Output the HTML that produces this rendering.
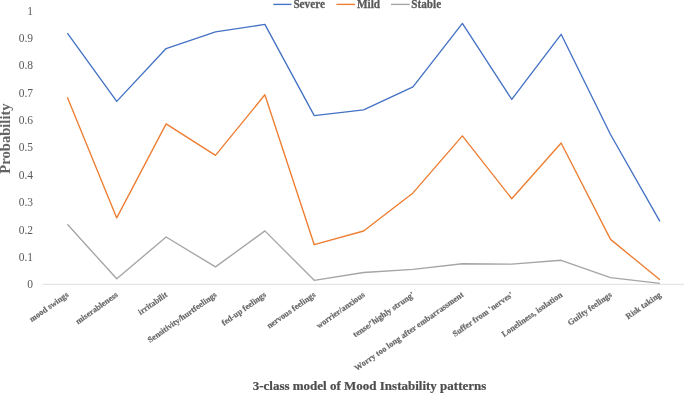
<!DOCTYPE html>
<html><head><meta charset="utf-8"><style>
html,body{margin:0;padding:0;background:#fff;}
svg{display:block;filter:blur(0.3px);}
</style></head><body>
<svg width="685" height="393" viewBox="0 0 685 393">
<rect width="685" height="393" fill="#fff"/>
<line x1="43.0" y1="284.3" x2="684.0" y2="284.3" stroke="#dedede" stroke-width="1"/>
<g font-family="'Liberation Serif', serif" font-size="11.5" fill="#595959">
<text x="33" y="288.30" text-anchor="end">0</text>
<text x="33" y="260.92" text-anchor="end">0.1</text>
<text x="33" y="233.54" text-anchor="end">0.2</text>
<text x="33" y="206.16" text-anchor="end">0.3</text>
<text x="33" y="178.78" text-anchor="end">0.4</text>
<text x="33" y="151.40" text-anchor="end">0.5</text>
<text x="33" y="124.02" text-anchor="end">0.6</text>
<text x="33" y="96.64" text-anchor="end">0.7</text>
<text x="33" y="69.26" text-anchor="end">0.8</text>
<text x="33" y="41.88" text-anchor="end">0.9</text>
<text x="33" y="14.50" text-anchor="end">1</text>
</g>
<g font-family="'Liberation Serif', serif" font-size="8.35" font-weight="bold" fill="#666666" stroke="#666666" stroke-width="0.18">
<text transform="translate(69.15,296.00) rotate(-35)" text-anchor="end">mood swings</text>
<text transform="translate(118.53,296.00) rotate(-35)" text-anchor="end">miserableness</text>
<text transform="translate(167.91,296.00) rotate(-35)" text-anchor="end">irritabilit</text>
<text transform="translate(217.29,296.00) rotate(-35)" text-anchor="end">Sensitivity/hurtfeelings</text>
<text transform="translate(266.67,296.00) rotate(-35)" text-anchor="end">fed-up feelings</text>
<text transform="translate(316.05,296.00) rotate(-35)" text-anchor="end">nervous feelings</text>
<text transform="translate(365.43,296.00) rotate(-35)" text-anchor="end">worrier/anxious</text>
<text transform="translate(414.80,296.00) rotate(-35)" text-anchor="end">tense/'highly strung'</text>
<text transform="translate(464.18,296.00) rotate(-35)" text-anchor="end">Worry too long after embarrassment</text>
<text transform="translate(513.56,296.00) rotate(-35)" text-anchor="end">Suffer from 'nerves'</text>
<text transform="translate(562.94,296.00) rotate(-35)" text-anchor="end">Loneliness, isolation</text>
<text transform="translate(612.32,296.00) rotate(-35)" text-anchor="end">Guilty feelings</text>
<text transform="translate(661.70,296.00) rotate(-35)" text-anchor="end">Risk taking</text>
</g>
<polyline points="67.35,224.31 116.73,278.80 166.11,236.99 215.49,266.91 264.87,230.88 314.25,280.30 363.62,272.50 413.00,269.41 462.38,263.71 511.76,264.09 561.14,260.29 610.52,277.59 659.90,283.45" fill="none" stroke="#a5a5a5" stroke-width="1.35" stroke-linejoin="round"/>
<polyline points="67.35,97.27 116.73,217.90 166.11,123.83 215.49,155.31 264.87,94.80 314.25,244.71 363.62,230.99 413.00,192.91 462.38,135.87 511.76,198.71 561.14,142.99 610.52,239.37 659.90,279.81" fill="none" stroke="#ed7d31" stroke-width="1.35" stroke-linejoin="round"/>
<polyline points="67.35,33.20 116.73,101.38 166.11,48.53 215.49,31.83 264.87,24.44 314.25,115.61 363.62,109.86 413.00,86.86 462.38,23.34 511.76,99.46 561.14,34.29 610.52,134.51 659.90,221.30" fill="none" stroke="#4472c4" stroke-width="1.35" stroke-linejoin="round"/>
<g font-family="'Liberation Serif', serif" font-size="12.6" font-weight="bold" fill="#595959" stroke="#595959" stroke-width="0.3">
<line x1="273.3" y1="4.4" x2="291.5" y2="4.4" stroke="#4472c4" stroke-width="1.35"/>
<text transform="translate(293.4,7.9) scale(0.889,1)">Severe</text>
<line x1="336.4" y1="4.4" x2="355" y2="4.4" stroke="#ed7d31" stroke-width="1.35"/>
<text transform="translate(357,7.9) scale(0.889,1)">Mild</text>
<line x1="391" y1="4.4" x2="409.7" y2="4.4" stroke="#a5a5a5" stroke-width="1.35"/>
<text transform="translate(411.3,7.9) scale(0.889,1)">Stable</text>
</g>
<text transform="translate(10.3,138.5) rotate(-90)" text-anchor="middle" font-family="'Liberation Serif', serif" font-size="14.6" font-weight="bold" fill="#636363">Probability</text>
<text transform="translate(369.5,389.8)" text-anchor="middle" font-family="'Liberation Serif', serif" font-size="13" font-weight="bold" fill="#4d4d4d" stroke="#4d4d4d" stroke-width="0.2">3-class model of Mood Instability patterns</text>
</svg>
</body></html>
